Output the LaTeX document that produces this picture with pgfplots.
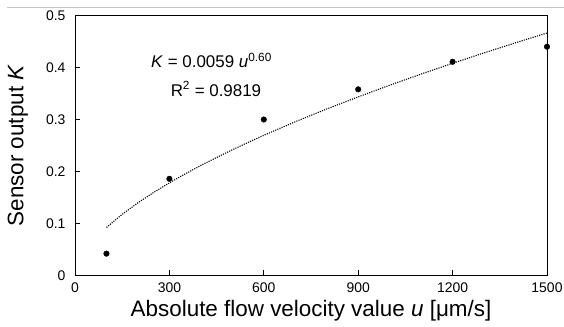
\documentclass[border=0pt]{standalone}
\usepackage{pgfplots}
\pgfplotsset{compat=1.18}
\usepackage{fontspec}
\setmainfont{Liberation Sans}
\begin{document}
\begin{tikzpicture}
\path[use as bounding box] (-75bp,-51.5bp) rectangle (489bp,275.5bp);
\draw[gray!45, line width=0.8bp] (-68bp,268.5bp) -- (489bp,268.5bp);
\begin{axis}[
  at={(0,0)}, anchor=south west,
  scale only axis, width=472bp, height=260bp,
  xmin=0, xmax=1500, ymin=0, ymax=0.5,
  xtick={0,300,...,1500},
  ytick={0,0.1,...,0.5},
  yticklabels={0,0.1,0.2,0.3,0.4,0.5},
  /pgf/number format/1000 sep={},
  tick align=inside,
  xtick pos=bottom, ytick pos=left,
  major tick length=5bp,
  tick style={black, line width=0.8bp},
  axis line style={black, line width=0.9bp},
  /pgf/number format/assume math mode=true,
  ticklabel style={font=\fontsize{14}{16}\selectfont},
  xticklabel style={yshift=-4bp},
  yticklabel style={xshift=-6bp},
  label style={font=\fontsize{22.5}{26}\selectfont},
  xlabel={Absolute flow velocity value \textit{u} [μm/s]},
  ylabel={Sensor output \textit{K}},
  xlabel style={at={(axis description cs:0.5,-0.135)}, anchor=center},
  ylabel style={at={(axis description cs:-0.121,0.5)}, anchor=center},
  clip=false,
]
\addplot[black, line width=1.1bp, dash pattern=on 1.1bp off 1.2bp] coordinates {
(100,0.0923) (150,0.1177) (200,0.1398) (250,0.1597) (300,0.1781) (350,0.1953)
(400,0.2116) (450,0.2270) (500,0.2417) (550,0.2559)
(600,0.2696) (700,0.2957) (800,0.3202) (900,0.3435) (1000,0.3659)
(1100,0.3874) (1200,0.4081) (1300,0.4281) (1400,0.4475) (1500,0.4664)
};
\addplot[only marks, mark=*, mark size=2.8bp, black] coordinates {
(100,0.042) (300,0.186) (600,0.300) (900,0.358) (1200,0.411) (1500,0.440)
};
\node[font=\fontsize{17}{20}\selectfont] at (axis cs:434,0.4135) {\textit{K} = 0.0059 \textit{u}\textsuperscript{0.60}};
\node[font=\fontsize{17}{20}\selectfont] at (axis cs:448,0.359) {R\textsuperscript{2} = 0.9819};
\end{axis}
\end{tikzpicture}
\end{document}
